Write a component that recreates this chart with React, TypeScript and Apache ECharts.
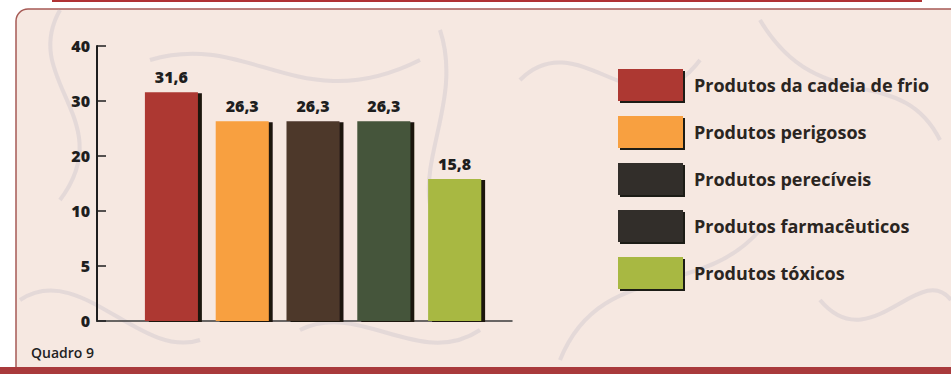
import React, { useEffect, useRef } from "react";
import * as echarts from "echarts";

const categories = [
  "Produtos da cadeia de frio",
  "Produtos perigosos",
  "Produtos perecíveis",
  "Produtos farmacêuticos",
  "Produtos tóxicos",
];
const values = [31.6, 26.3, 26.3, 26.3, 15.8];
const barColors = ["#ad3831", "#f8a03f", "#4d372c", "#45543a", "#a8b843"];
const legendColors = ["#ad3831", "#f8a03f", "#302f2a", "#302f2a", "#a8b843"];
const yTicks = [0, 5, 10, 20, 30, 40];
const footnote = "Quadro 9";

// the reference's y axis spaces its ticks evenly although the steps differ
function toAxis(v: number): number {
  for (let i = 0; i < yTicks.length - 1; i++) {
    if (v <= yTicks[i + 1]) {
      return i + (v - yTicks[i]) / (yTicks[i + 1] - yTicks[i]);
    }
  }
  return yTicks.length - 1;
}

const fmt = (v: number) => v.toFixed(1).replace(".", ",");

export default function App() {
  const ref = useRef<HTMLDivElement>(null);
  useEffect(() => {
    if (!ref.current) return;
    const chart = echarts.init(ref.current, undefined, { renderer: "svg" });
    const font = "'Open Sans', Lato, sans-serif";
    const curve = (x1: number, y1: number, cx1: number, cy1: number, cx2: number, cy2: number, x2: number, y2: number) => ({
      type: "bezierCurve",
      silent: true,
      z: -9,
      shape: { x1, y1, cpx1: cx1, cpy1: cy1, cpx2: cx2, cpy2: cy2, x2, y2 },
      style: { stroke: "rgba(175,170,190,0.25)", lineWidth: 4, fill: "none" },
    });
    chart.setOption({
      animation: false,
      backgroundColor: "#ffffff",
      graphic: [
        {
          type: "rect",
          z: -10,
          silent: true,
          shape: { x: 16, y: 9, width: 960, height: 370, r: 12 },
          style: { fill: "#f6e8e1", stroke: "#a65a55", lineWidth: 1.5 },
        },
        curve(60, 10, 20, 80, 120, 120, 60, 200),
        curve(150, 60, 250, 30, 300, 120, 420, 60),
        curve(440, 30, 470, 120, 380, 200, 470, 260),
        curve(20, 300, 80, 260, 140, 360, 200, 340),
        curve(520, 80, 580, 20, 640, 140, 700, 60),
        curve(560, 360, 600, 260, 700, 300, 760, 230),
        curve(760, 20, 820, 120, 900, 60, 940, 140),
        curve(820, 300, 870, 360, 920, 260, 951, 300),
        curve(300, 330, 360, 300, 420, 370, 480, 330),
        {
          type: "rect",
          z: 10,
          silent: true,
          shape: { x: 52, y: 0, width: 870, height: 2 },
          style: { fill: "#b03234" },
        },
        {
          type: "rect",
          z: 10,
          silent: true,
          shape: { x: 0, y: 367, width: 951, height: 7 },
          style: { fill: "#a93a3c" },
        },
        {
          type: "text",
          z: 10,
          left: 31,
          top: 345,
          style: { text: footnote, font: `600 14px ${font}`, fill: "#222222" },
        },
      ],
      legend: {
        orient: "vertical",
        left: 613,
        top: 64,
        itemWidth: 65,
        itemHeight: 32,
        itemGap: 15,
        icon: "rect",
        selectedMode: false,
        data: categories.map((name, i) => ({
          name,
          itemStyle: {
            color: legendColors[i],
            shadowColor: "#1e1a16",
            shadowOffsetX: 2,
            shadowOffsetY: 2,
            shadowBlur: 0,
          },
        })),
        textStyle: {
          fontFamily: font,
          fontWeight: "bold",
          fontSize: 18,
          color: "#2a2521",
          padding: [0, 0, 0, 6],
        },
      },
      grid: [
        { left: 136, right: 461, top: 46, bottom: 53 },
        { left: 97, right: 439, top: 46, bottom: 53 },
      ],
      xAxis: [
        {
          gridIndex: 0,
          type: "category",
          data: categories,
          show: false,
        },
        {
          gridIndex: 1,
          type: "category",
          data: [""],
          axisLine: { show: true, lineStyle: { color: "#3a3a3a", width: 1.5 } },
          axisTick: { show: false },
          axisLabel: { show: false },
          splitLine: { show: false },
        },
      ],
      yAxis: [
        {
          gridIndex: 0,
          type: "value",
          min: 0,
          max: yTicks.length - 1,
          interval: 1,
          show: false,
        },
        {
          gridIndex: 1,
          type: "value",
          min: 0,
          max: yTicks.length - 1,
          interval: 1,
          axisLine: { show: true, lineStyle: { color: "#1e1e1e", width: 2 } },
          axisTick: { show: true, inside: true, length: 9, lineStyle: { color: "#1e1e1e", width: 1.5 } },
          splitLine: { show: false },
          axisLabel: {
            margin: 7,
            fontFamily: font,
            fontWeight: 800,
            fontSize: 16,
            color: "#1e1e1e",
            formatter: (v: number) => String(yTicks[Math.round(v)]),
          },
        },
      ],
      series: categories.map((name, i) => ({
        name,
        type: "bar",
        xAxisIndex: 0,
        yAxisIndex: 0,
        barWidth: 53,
        barGap: "-100%",
        data: categories.map((_, j) => (j === i ? toAxis(values[i]) : "-")),
        itemStyle: {
          color: barColors[i],
          shadowColor: "#1a1511",
          shadowOffsetX: 4,
          shadowOffsetY: 1,
          shadowBlur: 0,
        },
        label: {
          show: true,
          position: "top",
          distance: 7,
          fontFamily: font,
          fontWeight: 800,
          fontSize: 16,
          color: "#1e1e1e",
          formatter: () => fmt(values[i]),
        },
      })),
    });
    return () => chart.dispose();
  }, []);
  return (
    <div
      ref={ref}
      style={{ position: "fixed", left: 0, top: 0, width: 951, height: 374 }}
    />
  );
}
